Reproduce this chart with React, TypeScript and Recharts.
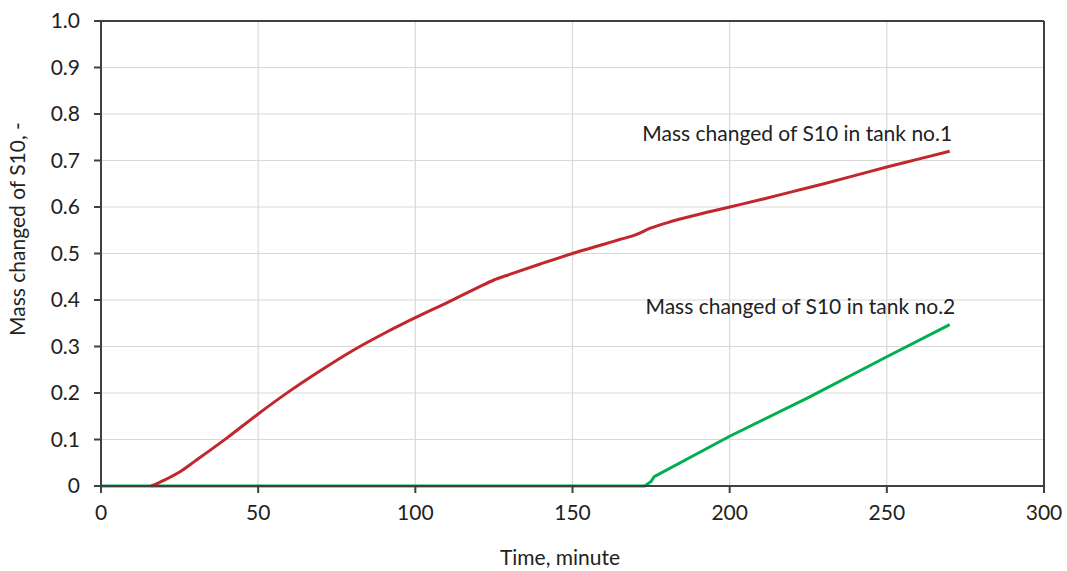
import { LineChart, Line, XAxis, YAxis, CartesianGrid, ReferenceLine, ReferenceDot } from 'recharts';

const tank1Time = [16, 20, 25, 30, 40, 50, 60, 70, 80, 90, 100, 110, 120, 125, 130, 140, 150, 160, 165, 170, 175, 180, 190, 200, 210, 220, 230, 240, 250, 260, 270];
const tank1Mass = [0, 0.012, 0.03, 0.054, 0.103, 0.155, 0.204, 0.249, 0.291, 0.328, 0.362, 0.394, 0.427, 0.443, 0.455, 0.478, 0.5, 0.52, 0.53, 0.54, 0.555, 0.566, 0.584, 0.6, 0.616, 0.633, 0.65, 0.668, 0.686, 0.703, 0.72];

const tank2Time = [0, 173, 175, 176, 200, 225, 250, 270];
const tank2Mass = [0, 0, 0.01, 0.02, 0.107, 0.19, 0.278, 0.347];

const xTicks = [0, 50, 100, 150, 200, 250, 300];
const yTicks = [0, 0.1, 0.2, 0.3, 0.4, 0.5, 0.6, 0.7, 0.8, 0.9, 1.0];

const tank1 = tank1Time.map((t, i) => ({ t, m: tank1Mass[i] }));
const tank2 = tank2Time.map((t, i) => ({ t, m: tank2Mass[i] }));

const font = 'Lato, "Open Sans", sans-serif';
const axisColor = '#404040';

export default function App() {
  return (
    <div style={{ position: 'absolute', left: 0, top: 0, background: '#fff', fontFamily: font }}>
      <LineChart width={1067} height={571} margin={{ top: 21, right: 23, bottom: 25, left: 41 }}>
        <CartesianGrid stroke="#D9D9D9" strokeWidth={1.2} />
        <XAxis
          type="number"
          dataKey="t"
          domain={[0, 300]}
          ticks={xTicks}
          height={60}
          tickSize={7}
          tickMargin={12}
          stroke={axisColor}
          strokeWidth={2}
          tick={{ fill: '#222', fontSize: 21, fontFamily: font }}
          label={() => (
            <text x={560} y={565} textAnchor="middle" fill="#222" fontSize={21} fontFamily={font}>
              Time, minute
            </text>
          )}
        />
        <YAxis
          type="number"
          dataKey="m"
          domain={[0, 1]}
          ticks={yTicks}
          width={60}
          tickSize={7}
          tickMargin={14}
          stroke={axisColor}
          strokeWidth={2}
          tickFormatter={(v: number) => (v === 0 ? '0' : v.toFixed(1))}
          tick={{ fill: '#222', fontSize: 21, fontFamily: font }}
          label={() => (
            <text x={25} y={229} transform="rotate(-90 25 229)" textAnchor="middle" fill="#222" fontSize={21} fontFamily={font}>
              Mass changed of S10, -
            </text>
          )}
        />
        <ReferenceLine y={1} stroke={axisColor} strokeWidth={2} />
        <ReferenceLine x={300} stroke={axisColor} strokeWidth={2} />
        <Line data={tank2} dataKey="m" stroke="#00B050" strokeWidth={3} dot={false} isAnimationActive={false} type="linear" />
        <Line data={tank1} dataKey="m" stroke="#C1272D" strokeWidth={3} dot={false} isAnimationActive={false} type="monotone" />
        <ReferenceDot
          x={221.5}
          y={0.757}
          r={0}
          label={{ value: 'Mass changed of S10 in tank no.1', position: 'center', fill: '#222', fontSize: 21, fontFamily: font }}
        />
        <ReferenceDot
          x={222.5}
          y={0.387}
          r={0}
          label={{ value: 'Mass changed of S10 in tank no.2', position: 'center', fill: '#222', fontSize: 21, fontFamily: font }}
        />
      </LineChart>
    </div>
  );
}
